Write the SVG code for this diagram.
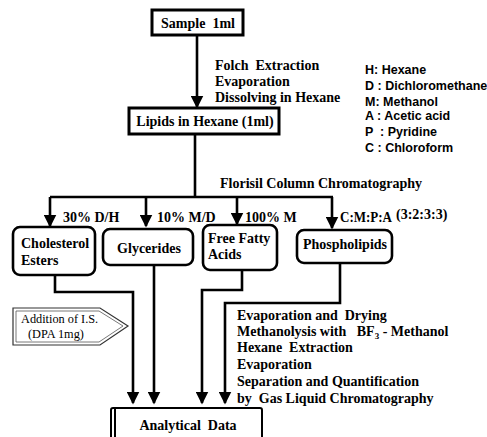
<svg xmlns="http://www.w3.org/2000/svg" width="487" height="437" viewBox="0 0 487 437">
<defs>
<style>
text{white-space:pre}
.bs{font-family:"Liberation Serif",serif;font-weight:bold;font-size:14px;fill:#000}
.lg{font-family:"Liberation Sans",Arial,sans-serif;font-weight:bold;font-size:12.5px;fill:#000}
.rs{font-family:"Liberation Serif",serif;font-size:12.3px;fill:#000}
.ln{fill:none;stroke:#000;stroke-width:2.6}
.box{fill:#fff;stroke:#000;stroke-width:3}
.rbox{fill:#fff;stroke:#000;stroke-width:2.6}
</style>
<marker id="ah" markerWidth="5" markerHeight="5" refX="4.4" refY="2.5" orient="auto" markerUnits="strokeWidth" viewBox="0 0 5 5">
<path d="M0,0 L5,2.5 L0,5 Z" fill="#000"/>
</marker>
</defs>
<rect width="487" height="437" fill="#fff"/>

<g id="connectors">
<path class="ln" d="M197,36 V107" marker-end="url(#ah)"/>
<path class="ln" d="M195,134 V197"/>
<path class="ln" d="M50,197 H333"/>
<path class="ln" d="M50,197 V226" marker-end="url(#ah)"/>
<path class="ln" d="M146,197 V226" marker-end="url(#ah)"/>
<path class="ln" d="M237,197 V224" marker-end="url(#ah)"/>
<path class="ln" d="M332,197 V228" marker-end="url(#ah)"/>
<path class="ln" d="M55,275 V292 H133 V403" marker-end="url(#ah)"/>
<path class="ln" d="M154,265 V403" marker-end="url(#ah)"/>
<path class="ln" d="M242,270 V290 H202 V403" marker-end="url(#ah)"/>
<path class="ln" d="M340,263 V303 H225 V403" marker-end="url(#ah)"/>
<text class="bs" x="215" y="70" xml:space="preserve">Folch  Extraction</text>
<text class="bs" x="215" y="86">Evaporation</text>
<text class="bs" x="215" y="102">Dissolving in Hexane</text>
<text class="bs" x="220" y="188">Florisil Column Chromatography</text>
<text class="bs" x="63" y="222">30% D/H</text>
<text class="bs" x="157" y="222">10% M/D</text>
<text class="bs" x="245" y="222">100% M</text>
<text class="bs" x="340" y="222" textLength="52" lengthAdjust="spacingAndGlyphs">C:M:P:A</text>
<text class="bs" x="396" y="219" font-size="14.5">(3:2:3:3)</text>
<text class="bs" x="237" y="320" xml:space="preserve">Evaporation and  Drying</text>
<text class="bs" x="237" y="336" xml:space="preserve">Methanolysis with   BF<tspan font-size="9" dy="3">3</tspan><tspan dy="-3"> - Methanol</tspan></text>
<text class="bs" x="237" y="352" xml:space="preserve">Hexane  Extraction</text>
<text class="bs" x="237" y="369">Evaporation</text>
<text class="bs" x="237" y="386">Separation and Quantification</text>
<text class="bs" x="237" y="403" xml:space="preserve">by  Gas Liquid Chromatography</text>
</g>

<g id="legend">
<text class="lg" x="365" y="74">H: Hexane</text>
<text class="lg" x="365" y="90">D : Dichloromethane</text>
<text class="lg" x="365" y="106">M: Methanol</text>
<text class="lg" x="365" y="120">A : Acetic acid</text>
<text class="lg" x="365" y="136" xml:space="preserve">P  : Pyridine</text>
<text class="lg" x="365" y="152">C : Chloroform</text>
</g>

<g id="sample">
<rect class="box" x="152" y="10" width="91" height="25"/>
<text class="bs" x="198" y="28" text-anchor="middle" xml:space="preserve">Sample  1ml</text>
</g>

<g id="lipids">
<rect class="box" x="129" y="108" width="150" height="26"/>
<text class="bs" x="205" y="126" text-anchor="middle">Lipids in Hexane (1ml)</text>
</g>

<g id="cholesterol">
<rect class="rbox" x="13" y="227" width="82" height="48" rx="7"/>
<text class="bs" x="21" y="248">Cholesterol</text>
<text class="bs" x="21" y="265">Esters</text>
</g>

<g id="glycerides">
<rect class="rbox" x="103" y="229" width="90" height="36" rx="7"/>
<text class="bs" x="149" y="253" text-anchor="middle" font-size="17.5">Glycerides</text>
</g>

<g id="ffa">
<rect class="rbox" x="203" y="225" width="74" height="45" rx="7"/>
<text class="bs" x="208" y="243">Free Fatty</text>
<text class="bs" x="208" y="259">Acids</text>
</g>

<g id="phospholipids">
<rect class="rbox" x="297" y="230" width="95" height="33" rx="7"/>
<text class="bs" x="345" y="249" text-anchor="middle">Phospholipids</text>
</g>

<g id="addition">
<path d="M13,308 H100 L128,326 L100,345 H13 Z" fill="#fff" stroke="#333" stroke-width="1.2"/>
<path d="M16,311 H99 L123,326 L99,342 H16 Z" fill="none" stroke="#555" stroke-width="0.8"/>
<text class="rs" x="21" y="323">Addition of I.S.</text>
<text class="rs" x="28" y="338">(DPA 1mg)</text>
</g>

<g id="analytical">
<rect x="111" y="408" width="151" height="34" rx="2" fill="#fff" stroke="#000" stroke-width="2"/>
<line x1="115" y1="409" x2="115" y2="437" stroke="#000" stroke-width="2"/>
<text class="bs" x="188" y="430" text-anchor="middle" font-size="17.5" xml:space="preserve">Analytical  Data</text>
</g>
</svg>
